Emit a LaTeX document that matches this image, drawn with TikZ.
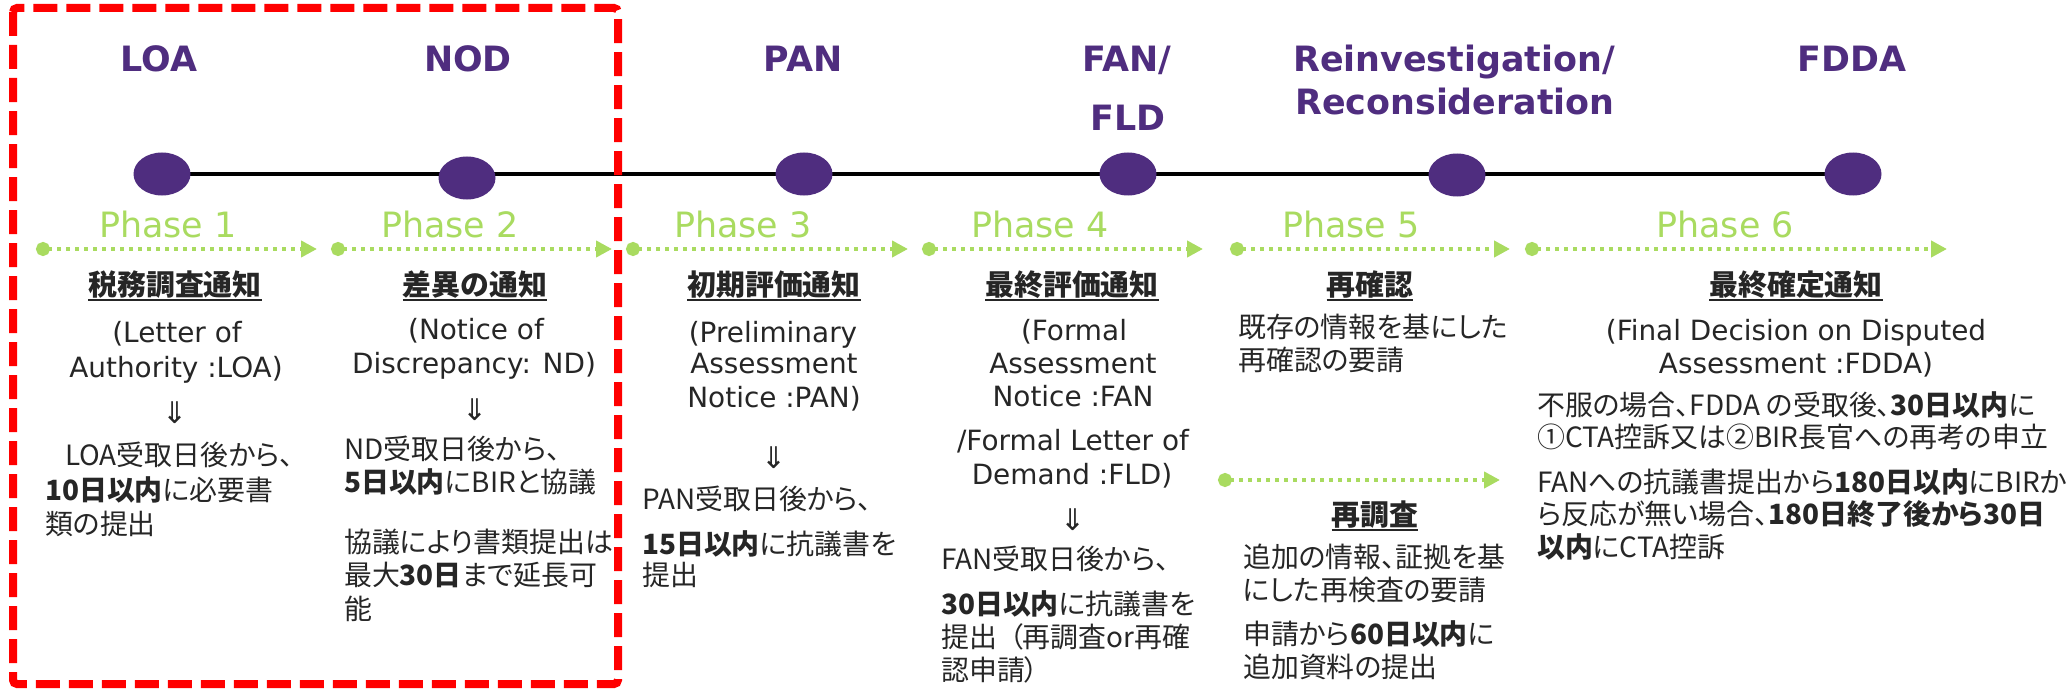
\documentclass[tikz,border=0pt]{standalone}
\usepackage{fontspec}
\setmainfont{DejaVu Sans}
\newfontfamily\jpf{Noto Sans CJK JP}[RawFeature=+palt]
\usetikzlibrary{arrows.meta,shapes.geometric}
\definecolor{purp}{HTML}{4F2D7F}
\definecolor{grn}{HTML}{A9DB60}
\definecolor{txt}{HTML}{262626}
\newcommand\ulin[1]{\setbox0\hbox{#1}\rlap{\rule[-6bp]{\wd0}{2bp}}\box0}
\tikzset{
  hdr/.style={font=\fontsize{35}{40}\selectfont\bfseries, text=purp, anchor=base, inner sep=0pt},
  ph/.style={font=\fontsize{35}{40}\selectfont, text=grn, anchor=base, inner sep=0pt},
  jh/.style={font=\jpf\fontsize{29}{34}\selectfont\bfseries, text=txt, anchor=base, inner sep=0pt},
  en/.style={font=\fontsize{28}{34}\selectfont, text=txt, anchor=base, inner sep=0pt},
  jl/.style={font=\jpf\fontsize{28}{34}\selectfont, text=txt, anchor=base west, inner sep=0pt},
  sym/.style={font=\fontsize{30}{34}\selectfont, text=txt, anchor=base, inner sep=0pt},
  dot/.style={ellipse, fill=purp, minimum width=57bp, minimum height=43bp, inner sep=0pt},
  parr/.style={draw=grn, line width=4bp, dash pattern=on 3.5bp off 5.5bp,
    {Circle[length=14bp,width=14bp]}-{Triangle[length=16bp,width=16bp]}},
  tline/.style={draw=black, line width=4.5bp},
  frame/.style={draw=red, line width=8bp, dash pattern=on 24bp off 9bp, rounded corners=4bp}
}
\begin{document}
\begin{tikzpicture}[x=1bp,y=-1bp]
\useasboundingbox (0,0) rectangle (2071,691);
\fill[white] (0,0) rectangle (2071,691);
% headers
\node[hdr] (hLOA) at (159,72) {LOA};
\node[hdr] (hNOD) at (468,72) {NOD};
\node[hdr] (hPAN) at (803,72) {PAN};
\node[hdr] (hFAN) at (1127,72) {FAN/};
\node[hdr] (hFLD) at (1128,131) {FLD};
\node[hdr] (hRI) at (1454,72) {Reinvestigation/};
\node[hdr] (hRC) at (1455,115) {Reconsideration};
\node[hdr] (hFD) at (1852,72) {FDDA};
% timeline
\coordinate (tl0) at (162,174);
\coordinate (tl1) at (1853,174);
\draw[tline] (tl0) -- (tl1);
\node[dot] (d1) at (162,174) {};
\node[dot] (d2) at (467,178) {};
\node[dot] (d3) at (804,174) {};
\node[dot] (d4) at (1128,174) {};
\node[dot] (d5) at (1457,175) {};
\node[dot] (d6) at (1853,174) {};
% phases
\node[ph] (p1) at (168,237) {Phase 1};
\node[ph] (p2) at (450,237) {Phase 2};
\node[ph] (p3) at (743,237) {Phase 3};
\node[ph] (p4) at (1040,237) {Phase 4};
\node[ph] (p5) at (1351,237) {Phase 5};
\node[ph] (p6) at (1725,237) {Phase 6};
% phase arrows
\coordinate (a1s) at (36,249);  \coordinate (a1e) at (317,249);
\coordinate (a2s) at (331,249); \coordinate (a2e) at (612,249);
\coordinate (a3s) at (626,249); \coordinate (a3e) at (908,249);
\coordinate (a4s) at (922,249); \coordinate (a4e) at (1203,249);
\coordinate (a5s) at (1230,249); \coordinate (a5e) at (1510,249);
\coordinate (a6s) at (1525,249); \coordinate (a6e) at (1947,249);
\coordinate (a7s) at (1218,480); \coordinate (a7e) at (1500,480);
\draw[parr] (a1s) -- (a1e);
\draw[parr] (a2s) -- (a2e);
\draw[parr] (a3s) -- (a3e);
\draw[parr] (a4s) -- (a4e);
\draw[parr] (a5s) -- (a5e);
\draw[parr] (a6s) -- (a6e);
\draw[parr] (a7s) -- (a7e);
% column 1
\node[jh] (j1) at (175,295) {\ulin{税務調査通知}};
\node[en] (c1a) at (177,342) {(Letter of};
\node[en] (c1b) at (176,377) {Authority :LOA)};
\node[sym] (c1s) at (175,423) {⇓};
\node[jl] (c1c) at (65,465) {LOA受取日後から、};
\node[jl] (c1d) at (45,500) {{\bfseries 10日以内}に必要書};
\node[jl] (c1e) at (45,534) {類の提出};
% column 2
\node[jh] (j2) at (475,295) {\ulin{差異の通知}};
\node[en] (c2a) at (476,339) {(Notice of};
\node[en] (c2b) at (474,373) {Discrepancy: ND)};
\node[sym] (c2s) at (475,420) {⇓};
\node[jl] (c2c) at (344,459) {ND受取日後から、};
\node[jl] (c2d) at (344,492) {{\bfseries 5日以内}にBIRと協議};
\node[jl] (c2e) at (344,552) {協議により書類提出は};
\node[jl] (c2f) at (344,585) {最大{\bfseries 30日}まで延長可};
\node[jl] (c2g) at (344,619) {能};
% column 3
\node[jh] (j3) at (774,295) {\ulin{初期評価通知}};
\node[en] (c3a) at (773,342) {(Preliminary};
\node[en] (c3b) at (774,373) {Assessment};
\node[en] (c3c) at (774,407) {Notice :PAN)};
\node[sym] (c3s) at (774,468) {⇓};
\node[jl] (c3d) at (642,509) {PAN受取日後から、};
\node[jl] (c3e) at (642,554) {{\bfseries 15日以内}に抗議書を};
\node[jl] (c3f) at (642,585) {提出};
% column 4
\node[jh] (j4) at (1072,295) {\ulin{最終評価通知}};
\node[en] (c4a) at (1074,340) {(Formal};
\node[en] (c4b) at (1073,373) {Assessment};
\node[en] (c4c) at (1073,406) {Notice :FAN};
\node[en] (c4d) at (1073,450) {/Formal Letter of};
\node[en] (c4e) at (1072,484) {Demand :FLD)};
\node[sym] (c4s) at (1073,530) {⇓};
\node[jl] (c4f) at (941,569) {FAN受取日後から、};
\node[jl] (c4g) at (941,614) {{\bfseries 30日以内}に抗議書を};
\node[jl] (c4h) at (941,647) {提出\hspace{12bp}（再調査or再確};
\node[jl] (c4i) at (941,680) {認申請）};
% column 5
\node[jh] (j5) at (1370,295) {\ulin{再確認}};
\node[jl] (c5a) at (1238,337) {既存の情報を基にした};
\node[jl] (c5b) at (1238,370) {再確認の要請};
\node[jh] (j5b) at (1375,525) {\ulin{再調査}};
\node[jl] (c5c) at (1243,567) {追加の情報、証拠を基};
\node[jl] (c5d) at (1243,600) {にした再検査の要請};
\node[jl] (c5e) at (1243,644) {申請から{\bfseries 60日以内}に};
\node[jl] (c5f) at (1243,677) {追加資料の提出};
% column 6
\node[jh] (j6) at (1796,295) {\ulin{最終確定通知}};
\node[en] (c6a) at (1796,340) {(Final Decision on Disputed};
\node[en] (c6b) at (1796,373) {Assessment :FDDA)};
\node[jl] (c6c) at (1537,415) {不服の場合、FDDA の受取後、{\bfseries 30日以内}に};
\node[jl] (c6d) at (1537,447) {①CTA控訴又は②BIR長官への再考の申立};
\node[jl] (c6e) at (1537,492) {FANへの抗議書提出から{\bfseries 180日以内}にBIRか};
\node[jl] (c6f) at (1537,524) {ら反応が無い場合、{\bfseries 180日終了後から30日}};
\node[jl] (c6g) at (1537,557) {{\bfseries 以内}にCTA控訴};
% red frame
\draw[frame] (13,8) rectangle (618,684);
\end{tikzpicture}
\end{document}
